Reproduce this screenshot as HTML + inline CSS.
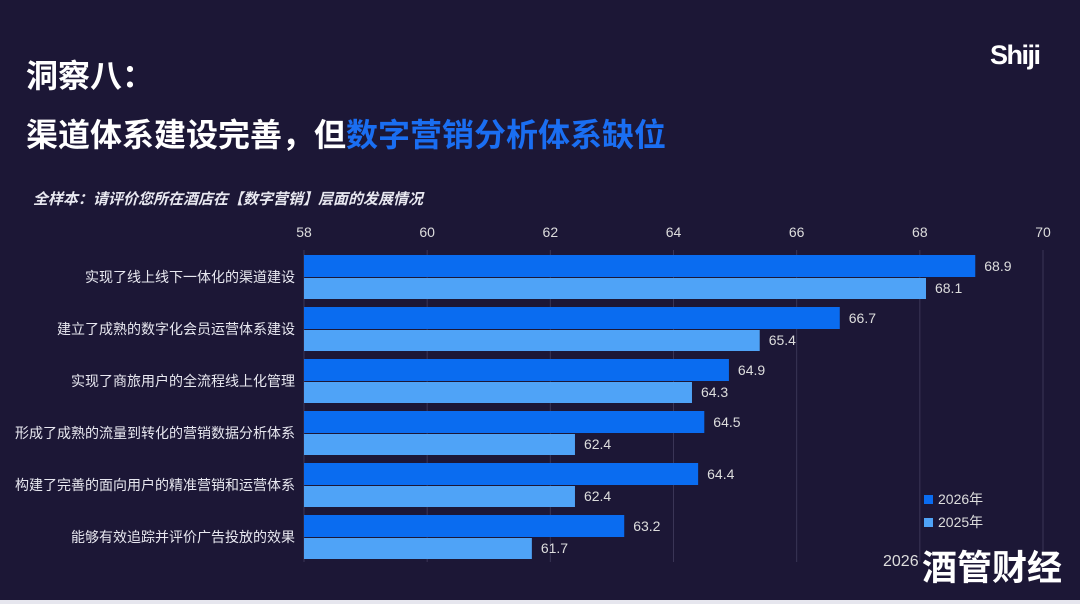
<!DOCTYPE html>
<html><head><meta charset="utf-8"><style>
body{margin:0;width:1080px;height:604px;background:#1c1736;overflow:hidden;position:relative;font-family:"Liberation Sans","Noto Sans CJK SC",sans-serif;color:#fff}
.t{position:absolute;white-space:nowrap}
</style></head><body>
<div class="t" style="left:26px;top:51px;font-size:32px;font-weight:bold">洞察八：</div>
<div class="t" style="left:26px;top:110px;font-size:32px;font-weight:bold">渠道体系建设完善，但<span style="color:#1a6ef2">数字营销分析体系缺位</span></div>
<div class="t" style="left:33px;top:188px;font-size:15px;font-weight:bold;font-style:italic;color:#e8e8f0">全样本：请评价您所在酒店在【数字营销】层面的发展情况</div>
<div class="t" style="left:990px;top:40px;font-size:27px;font-weight:bold;letter-spacing:-1.5px">Shiji</div>
<svg id="c" width="1080" height="604" style="position:absolute;left:0;top:0"></svg>
<div class="t" style="left:883px;top:553px;font-size:16px;color:#ddd">2026</div>
<div class="t" style="left:922px;top:540px;font-size:35px;font-weight:bold">酒管财经</div>
<div style="position:absolute;left:0;top:600px;width:1080px;height:4px;background:#e6e6ee"></div>
<script>
const categories=["实现了线上线下一体化的渠道建设","建立了成熟的数字化会员运营体系建设","实现了商旅用户的全流程线上化管理","形成了成熟的流量到转化的营销数据分析体系","构建了完善的面向用户的精准营销和运营体系","能够有效追踪并评价广告投放的效果"];
const values2026=[68.9,66.7,64.9,64.5,64.4,63.2];
const values2025=[68.1,65.4,64.3,62.4,62.4,61.7];
const ticks=[58,60,62,64,66,68,70];
const svg=document.getElementById('c');
const NS='http://www.w3.org/2000/svg';
const x=v=>304+(v-58)*(739/12);
const rowY=i=>255+i*52;
function mk(t,a){const e=document.createElementNS(NS,t);for(const k in a)e.setAttribute(k,a[k]);svg.appendChild(e);return e;}
ticks.forEach(t=>{
 const l=mk('line',{x1:x(t),x2:x(t),y1:250,y2:562,stroke:'#3a3556','stroke-width':1});
 
 
 const tx=mk('text',{x:x(t),y:237,'text-anchor':'middle','font-size':14,fill:'#ddd'});tx.textContent=t;
 
 
});
categories.forEach((c,i)=>{
 const y=rowY(i);
 const lb=mk('text',{x:295,y:y+27,'text-anchor':'end','font-size':14,fill:'#e8e8f0'});lb.textContent=c;
 
 
 const b1=mk('rect',{x:x(58),y:y,width:x(values2026[i])-x(58),height:22,fill:'#0a6cf0'});
 
 
 const b2=mk('rect',{x:x(58),y:y+23,width:x(values2025[i])-x(58),height:21,fill:'#4fa3f7'});
 
 
 const v1=mk('text',{x:x(values2026[i])+9,y:y+16,'font-size':14,fill:'#ddd'});v1.textContent=values2026[i].toFixed(1);
 
 
 const v2=mk('text',{x:x(values2025[i])+9,y:y+38,'font-size':14,fill:'#ddd'});v2.textContent=values2025[i].toFixed(1);
 
 
});
[['2026年','#0a6cf0',504],['2025年','#4fa3f7',527]].forEach(([n,c,y])=>{
 const r=mk('rect',{x:924,y:y-9,width:9,height:9,fill:c});
 
 
 const t=mk('text',{x:938,y:y,'font-size':14,fill:'#ddd'});t.textContent=n;
 
 
});
</script>
</body></html>
